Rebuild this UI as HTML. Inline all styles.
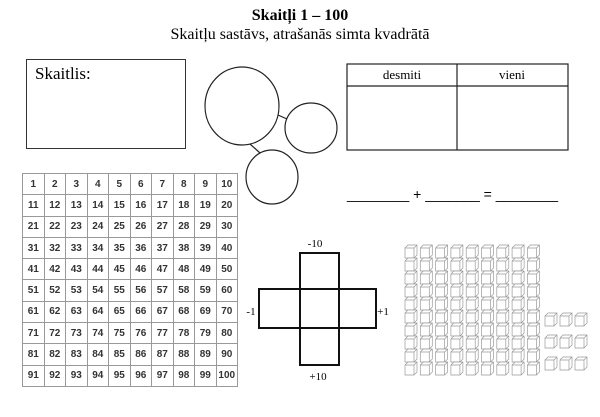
<!DOCTYPE html>
<html><head><meta charset="utf-8"><style>
body{margin:0;width:600px;height:417px;background:#fff;position:relative;overflow:hidden;font-family:"Liberation Serif",serif}
.a{position:absolute}
</style></head><body>
<div class="a" style="left:0;top:7px;width:600px;text-align:center;font-weight:bold;font-size:16px">Skaitļi 1 – 100</div>
<div class="a" style="left:0;top:26px;width:600px;text-align:center;font-size:16px">Skaitļu sastāvs, atrašanās simta kvadrātā</div>
<div class="a" style="left:26px;top:59px;width:158px;height:88px;border:1px solid #333"></div>
<div class="a" style="left:35px;top:64px;font-size:17px">Skaitlis:</div>
<svg class="a" style="left:0;top:0" width="600" height="417">
<g fill="none" stroke="#222" stroke-width="1.2">
<ellipse cx="242" cy="106" rx="37" ry="39"/>
<ellipse cx="311" cy="128" rx="26" ry="25"/>
<ellipse cx="272" cy="177" rx="26" ry="27"/>
<line x1="278" y1="115" x2="287" y2="119"/>
<line x1="250" y1="144" x2="260" y2="153"/>
<rect x="347" y="64" width="221" height="86"/>
<line x1="347" y1="86" x2="568" y2="86"/>
<line x1="457" y1="64" x2="457" y2="150"/>
</g>
<text x="402" y="79" font-size="13" text-anchor="middle" font-family="Liberation Serif">desmiti</text>
<text x="512" y="79" font-size="13" text-anchor="middle" font-family="Liberation Serif">vieni</text>
<text x="347" y="199" font-size="14" font-family="Liberation Sans">________ + _______ = ________</text>
<g fill="none" stroke="#111" stroke-width="2">
<rect x="300" y="253" width="39" height="112"/>
<rect x="259" y="289" width="117" height="39"/>
</g>
<g font-size="11" font-family="Liberation Serif" text-anchor="middle">
<text x="315" y="247">-10</text><text x="318" y="380">+10</text>
<text x="251" y="315">-1</text><text x="383" y="315">+1</text>
</g>
<g id="g" stroke="#999" stroke-width="0.7" fill="#fff"></g>
</svg>
<table class="a" style="left:22px;top:173px;border-collapse:collapse;font-family:'Liberation Sans',sans-serif;font-size:10px;font-weight:bold;color:#333">
<tbody id="t"></tbody></table>
<script>
var t=document.getElementById('t'),h='';
for(var r=0;r<10;r++){h+='<tr>';for(var c=1;c<=10;c++)h+='<td style="border:1px solid #999;width:20.5px;height:20.3px;padding:0;text-align:center">'+(r*10+c)+'</td>';h+='</tr>';}
t.innerHTML=h;
var g=document.getElementById('g'),s='';
function cube(x,y){s+='<path d="M'+x+' '+(y+3)+'l3 -3h9v10l-3 3h-9z M'+x+' '+(y+3)+'h9v10 M'+(x+9)+' '+(y+3)+'l3 -3"/>';}
for(var i=0;i<9;i++)for(var j=0;j<10;j++)cube(405+i*15.3,245+j*13);
for(var i=0;i<3;i++)for(var j=0;j<3;j++)cube(545+i*15,313+j*22);
g.innerHTML=s;
</script>
</body></html>
